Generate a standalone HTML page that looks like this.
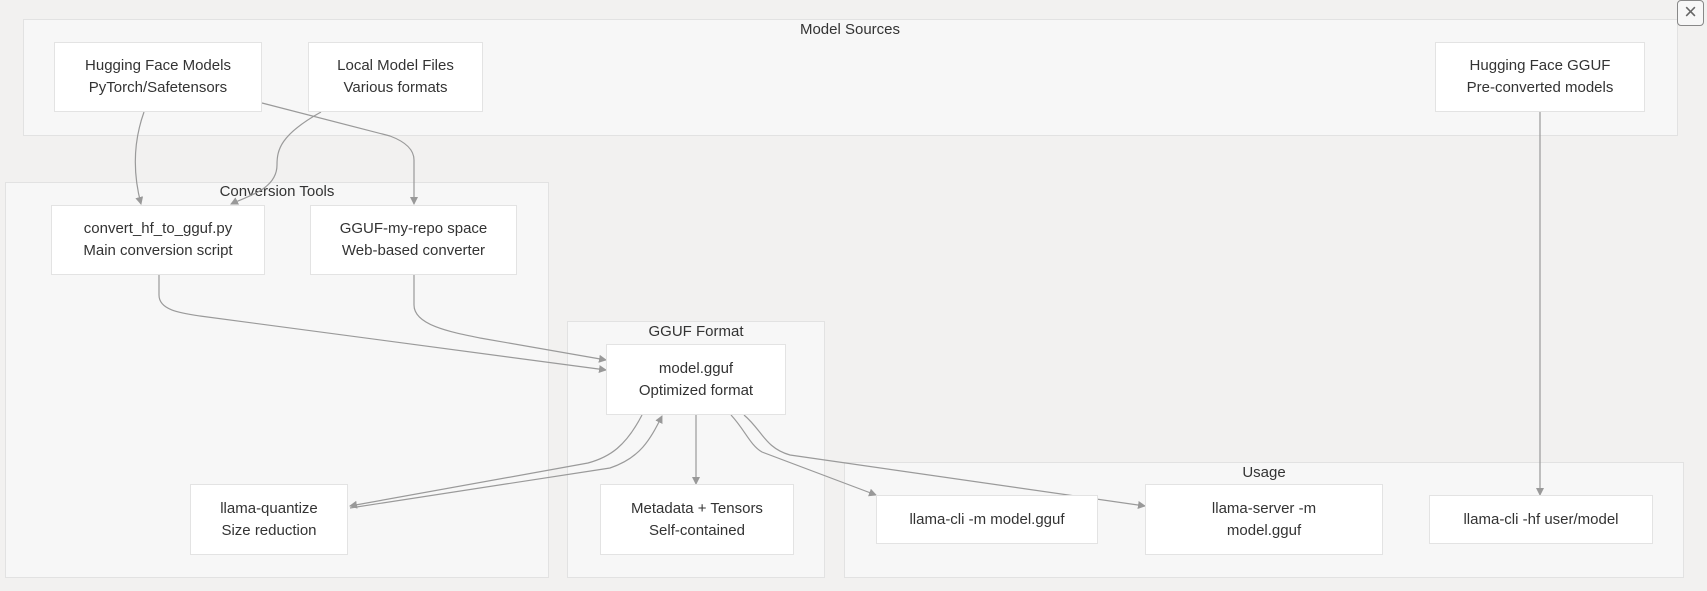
<!DOCTYPE html>
<html><head><meta charset="utf-8"><style>
body{margin:0;width:1707px;height:591px;background:#f2f1f0;position:relative;overflow:hidden;font-family:"Liberation Sans",sans-serif;color:#333}
.c{position:absolute;background:#f7f7f7;border:1px solid #e2e2e2;box-sizing:border-box}
.t{position:absolute;font-size:15px;transform:translateX(-50%);white-space:nowrap}
.n{position:absolute;background:#fff;border:1px solid #e3e3e3;box-sizing:border-box;display:flex;align-items:center;justify-content:center;text-align:center;font-size:15px;line-height:22px}
svg{position:absolute;left:0;top:0}
</style></head><body>
<div class="c" style="left:23px;top:19px;width:1655px;height:117px"></div>
<div class="t" style="left:850px;top:21px">Model Sources</div>
<div class="c" style="left:5px;top:182px;width:544px;height:396px"></div>
<div class="t" style="left:277px;top:183px">Conversion Tools</div>
<div class="c" style="left:567px;top:321px;width:258px;height:257px"></div>
<div class="t" style="left:696px;top:323px">GGUF Format</div>
<div class="c" style="left:844px;top:462px;width:840px;height:116px"></div>
<div class="t" style="left:1264px;top:464px">Usage</div>
<div style="position:absolute;left:1677px;top:0;width:27px;height:26px;border:1.5px solid #888;border-radius:4px;box-sizing:border-box;background:#f7f7f7;font-size:22px;line-height:22px;text-align:center;color:#666">×</div>
<svg width="1707" height="591"><defs><marker id="a" markerWidth="8" markerHeight="8" refX="7" refY="4" orient="auto" markerUnits="userSpaceOnUse"><path d="M0,0L8,4L0,8z" fill="#999"/></marker></defs>
<g fill="none" stroke="#9a9a9a" stroke-width="1.2" marker-end="url(#a)">
<path d="M144,112 C134,140 132,170 141,204"/>
<path d="M262,103 L390,136 Q414,145 414,160 L414,204"/>
<path d="M321,112 C280,135 277,150 277,165 C277,190 245,197 231,204"/>
<path d="M159,275 L159,295 C159,310 180,313 200,316 L606,370"/>
<path d="M414,275 L414,305 C414,325 450,332 480,338 L606,360"/>
<path d="M642,415 C626,446 610,457 588,463 L350,506"/>
<path d="M350,508 L610,468 C640,458 650,440 662,416"/>
<path d="M696,415 L696,484"/>
<path d="M731,415 C745,430 750,445 762,452 L876,495"/>
<path d="M744,415 C762,430 765,448 790,455 L1145,506"/>
<path d="M1540,112 L1540,495"/>
</g></svg>
<div class="n" style="left:54px;top:42px;width:208px;height:70px">Hugging Face Models<br>PyTorch/Safetensors</div>
<div class="n" style="left:308px;top:42px;width:175px;height:70px">Local Model Files<br>Various formats</div>
<div class="n" style="left:1435px;top:42px;width:210px;height:70px">Hugging Face GGUF<br>Pre-converted models</div>
<div class="n" style="left:51px;top:205px;width:214px;height:70px">convert_hf_to_gguf.py<br>Main conversion script</div>
<div class="n" style="left:310px;top:205px;width:207px;height:70px">GGUF-my-repo space<br>Web-based converter</div>
<div class="n" style="left:190px;top:484px;width:158px;height:71px">llama-quantize<br>Size reduction</div>
<div class="n" style="left:606px;top:344px;width:180px;height:71px">model.gguf<br>Optimized format</div>
<div class="n" style="left:600px;top:484px;width:194px;height:71px">Metadata + Tensors<br>Self-contained</div>
<div class="n" style="left:876px;top:495px;width:222px;height:49px">llama-cli -m model.gguf</div>
<div class="n" style="left:1145px;top:484px;width:238px;height:71px">llama-server -m<br>model.gguf</div>
<div class="n" style="left:1429px;top:495px;width:224px;height:49px">llama-cli -hf user/model</div>
</body></html>
